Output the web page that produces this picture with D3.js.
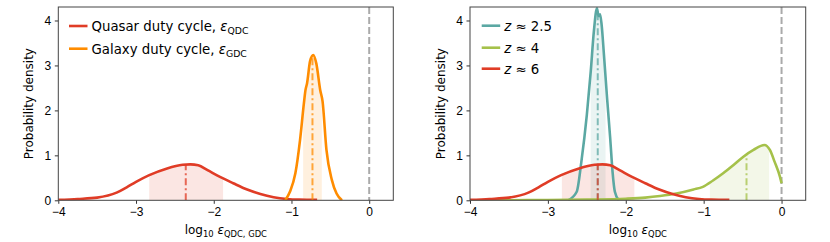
<!DOCTYPE html>
<html lang="en">
<head>
<meta charset="UTF-8">
<title>Duty cycle posteriors</title>
<script src="https://d3js.org/d3.v7.min.js"></script>
<style>
  body { margin: 0; background: #ffffff; }
  svg { display: block; font-family: 'DejaVu Sans', sans-serif; }
  .tick text { font-size: 12px; fill: #000; }
  .tick line { stroke: #333; }
  .domain { display: none; }
</style>
</head>
<body>
<svg width="830" height="242"></svg>
<script>
// ---- data ----
const quasarX = [-4.0, -3.75, -3.5, -3.25, -3.12, -3.0, -2.83, -2.6, -2.4, -2.3, -2.2, -2.08, -1.92, -1.75, -1.57, -1.4, -1.23, -1.06, -0.9, -0.67];
const quasarY = [0.01, 0.03, 0.06, 0.17, 0.29, 0.41, 0.56, 0.71, 0.79, 0.80, 0.78, 0.67, 0.52, 0.38, 0.24, 0.14, 0.07, 0.03, 0.015, 0.01];

const galaxyX = [-1.08, -1.02, -0.95, -0.89, -0.84, -0.82, -0.80, -0.76, -0.72, -0.68, -0.63, -0.60, -0.55, -0.48, -0.42, -0.35];
const galaxyY = [0.0, 0.19, 0.6, 1.34, 2.16, 2.45, 2.6, 3.1, 3.23, 3.04, 2.45, 2.2, 1.12, 0.45, 0.15, 0.0];

const z25X = [-2.74, -2.63, -2.57, -2.50, -2.45, -2.41, -2.37, -2.35, -2.33, -2.31, -2.28, -2.24, -2.20, -2.17, -2.14, -2.09];
const z25Y = [0.0, 0.19, 0.86, 1.9, 2.86, 3.75, 4.27, 4.1, 4.14, 3.9, 3.23, 2.27, 1.38, 0.64, 0.19, 0.0];

const z4X = [-4.0, -3.5, -3.0, -2.5, -2.0, -1.75, -1.56, -1.35, -1.13, -1.01, -0.88, -0.75, -0.62, -0.49, -0.36, -0.22, -0.15, -0.09, -0.02, 0.0];
const z4Y = [0.0, 0.002, 0.005, 0.015, 0.035, 0.06, 0.095, 0.15, 0.24, 0.30, 0.44, 0.6, 0.78, 0.97, 1.12, 1.23, 1.12, 0.86, 0.52, 0.38];

// [lower, median, upper]
const quasarQ = [-2.83, -2.36, -1.88];
const galaxyQ = [-0.85, -0.73, -0.61];
const z25Q = [-2.45, -2.36, -2.26];
const z4Q = [-0.92, -0.45, -0.16];
const z6Q = [-2.82, -2.36, -1.89];

const xTicks = [-4, -3, -2, -1, 0];
const yTicks = [0, 1, 2, 3, 4];

const red = "#e03c26", orange = "#ff8c00", teal = "#5ba8a3", green = "#a5c14a";

const svg = d3.select("svg");
const defs = svg.append("defs");
const plotTop = 7, plotBottom = 200.3;

const panels = [
  {
    left: 58.3, right: 393.3,
    series: [
      {x: quasarX, y: quasarY, q: quasarQ, color: red, name: "Quasar duty cycle, ", sub: "QDC", sym: "ε"},
      {x: galaxyX, y: galaxyY, q: galaxyQ, color: orange, name: "Galaxy duty cycle, ", sub: "GDC", sym: "ε"}
    ],
    xsub: "QDC, GDC",
    legendX: 69, legendY: [26, 48.7]
  },
  {
    left: 470, right: 805.7,
    series: [
      {x: z25X, y: z25Y, q: z25Q, color: teal, label: "2.5"},
      {x: z4X, y: z4Y, q: z4Q, color: green, label: "4"},
      {x: quasarX, y: quasarY, q: z6Q, color: red, label: "6"}
    ],
    xsub: "QDC",
    legendX: 481.7, legendY: [25.7, 47.7, 68.7]
  }
];

function interp(xs, ys, v) {
  for (let i = 0; i < xs.length - 1; i++) {
    if (v >= xs[i] && v <= xs[i + 1]) {
      const t = (v - xs[i]) / (xs[i + 1] - xs[i]);
      return ys[i] + t * (ys[i + 1] - ys[i]);
    }
  }
  return 0;
}

panels.forEach((p, pi) => {
  const x = d3.scaleLinear().domain([-4, 0.31]).range([p.left, p.right]);
  const y = d3.scaleLinear().domain([0, 4.3]).range([plotBottom, plotTop]);
  const g = svg.append("g");

  defs.append("clipPath").attr("id", "frame" + pi)
    .append("rect").attr("x", p.left).attr("y", plotTop)
    .attr("width", p.right - p.left).attr("height", plotBottom - plotTop);

  const plot = g.append("g").attr("clip-path", `url(#frame${pi})`);

  // grey dashed line at 0
  plot.append("line")
    .attr("x1", x(0)).attr("x2", x(0)).attr("y1", plotTop).attr("y2", plotBottom)
    .attr("stroke", "#aaaaaa").attr("stroke-width", 2).attr("stroke-dasharray", "7,3");

  const line = d3.line().x(d => x(d[0])).y(d => y(d[1])).curve(d3.curveMonotoneX);
  const area = d3.area().x(d => x(d[0])).y0(y(0)).y1(d => y(d[1])).curve(d3.curveMonotoneX);

  // shaded credible regions
  p.series.forEach((s, si) => {
    const pts = s.x.map((v, i) => [v, s.y[i]]);
    const id = `band${pi}_${si}`;
    defs.append("clipPath").attr("id", id)
      .append("rect").attr("x", x(s.q[0])).attr("y", plotTop)
      .attr("width", x(s.q[2]) - x(s.q[0])).attr("height", plotBottom - plotTop);
    plot.append("path").datum(pts)
      .attr("clip-path", `url(#${id})`)
      .attr("d", area)
      .attr("fill", s.color).attr("fill-opacity", 0.13);
  });

  // curves and medians
  p.series.forEach(s => {
    const pts = s.x.map((v, i) => [v, s.y[i]]);
    plot.append("path").datum(pts)
      .attr("d", line)
      .attr("fill", "none").attr("stroke", s.color).attr("stroke-width", 2.6)
      .attr("stroke-linejoin", "round");
    const m = s.q[1];
    plot.append("line")
      .attr("x1", x(m)).attr("x2", x(m))
      .attr("y1", y(0)).attr("y2", y(interp(s.x, s.y, m)))
      .attr("stroke", s.color).attr("stroke-opacity", 0.75).attr("stroke-width", 2)
      .attr("stroke-dasharray", "7,3,2,3");
  });

  // axes
  g.append("g").attr("transform", `translate(0,${plotBottom})`)
    .call(d3.axisBottom(x).tickValues(xTicks).tickFormat(d3.format("d")).tickSize(3.5).tickPadding(3.5));
  g.append("g").attr("transform", `translate(${p.left},0)`)
    .call(d3.axisLeft(y).tickValues(yTicks).tickFormat(d3.format("d")).tickSize(3.5).tickPadding(3.5));

  g.append("rect")
    .attr("x", p.left).attr("y", plotTop)
    .attr("width", p.right - p.left).attr("height", plotBottom - plotTop)
    .attr("fill", "none").attr("stroke", "#444").attr("stroke-width", 1);

  // axis labels
  g.append("text")
    .attr("transform", `translate(${p.left - 25},${(plotTop + plotBottom) / 2}) rotate(-90)`)
    .attr("text-anchor", "middle").style("font-size", "12px")
    .text("Probability density");

  const xl = g.append("text")
    .attr("x", (p.left + p.right) / 2).attr("y", 234)
    .attr("text-anchor", "middle").style("font-size", "12px");
  xl.append("tspan").text("log");
  xl.append("tspan").attr("dy", 3).style("font-size", "8.4px").text("10");
  xl.append("tspan").attr("dy", -3).text(" ");
  xl.append("tspan").style("font-style", "italic").text("ε");
  xl.append("tspan").attr("dy", 3).style("font-size", "8.4px").text(p.xsub);

  // legend
  p.series.forEach((s, si) => {
    const ly = p.legendY[si];
    g.append("line")
      .attr("x1", p.legendX).attr("x2", p.legendX + 18.5)
      .attr("y1", ly).attr("y2", ly)
      .attr("stroke", s.color).attr("stroke-width", 2.6);
    const t = g.append("text")
      .attr("x", p.legendX + 22.5).attr("y", ly + 4.8)
      .style("font-size", "13.3px");
    if (s.name) {
      t.append("tspan").text(s.name);
      t.append("tspan").style("font-style", "italic").text(s.sym);
      t.append("tspan").attr("dy", 3.3).style("font-size", "9.3px").text(s.sub);
    } else {
      t.append("tspan").style("font-style", "italic").text("z");
      t.append("tspan").text(" ≈ " + s.label);
    }
  });
});
</script>
</body>
</html>
